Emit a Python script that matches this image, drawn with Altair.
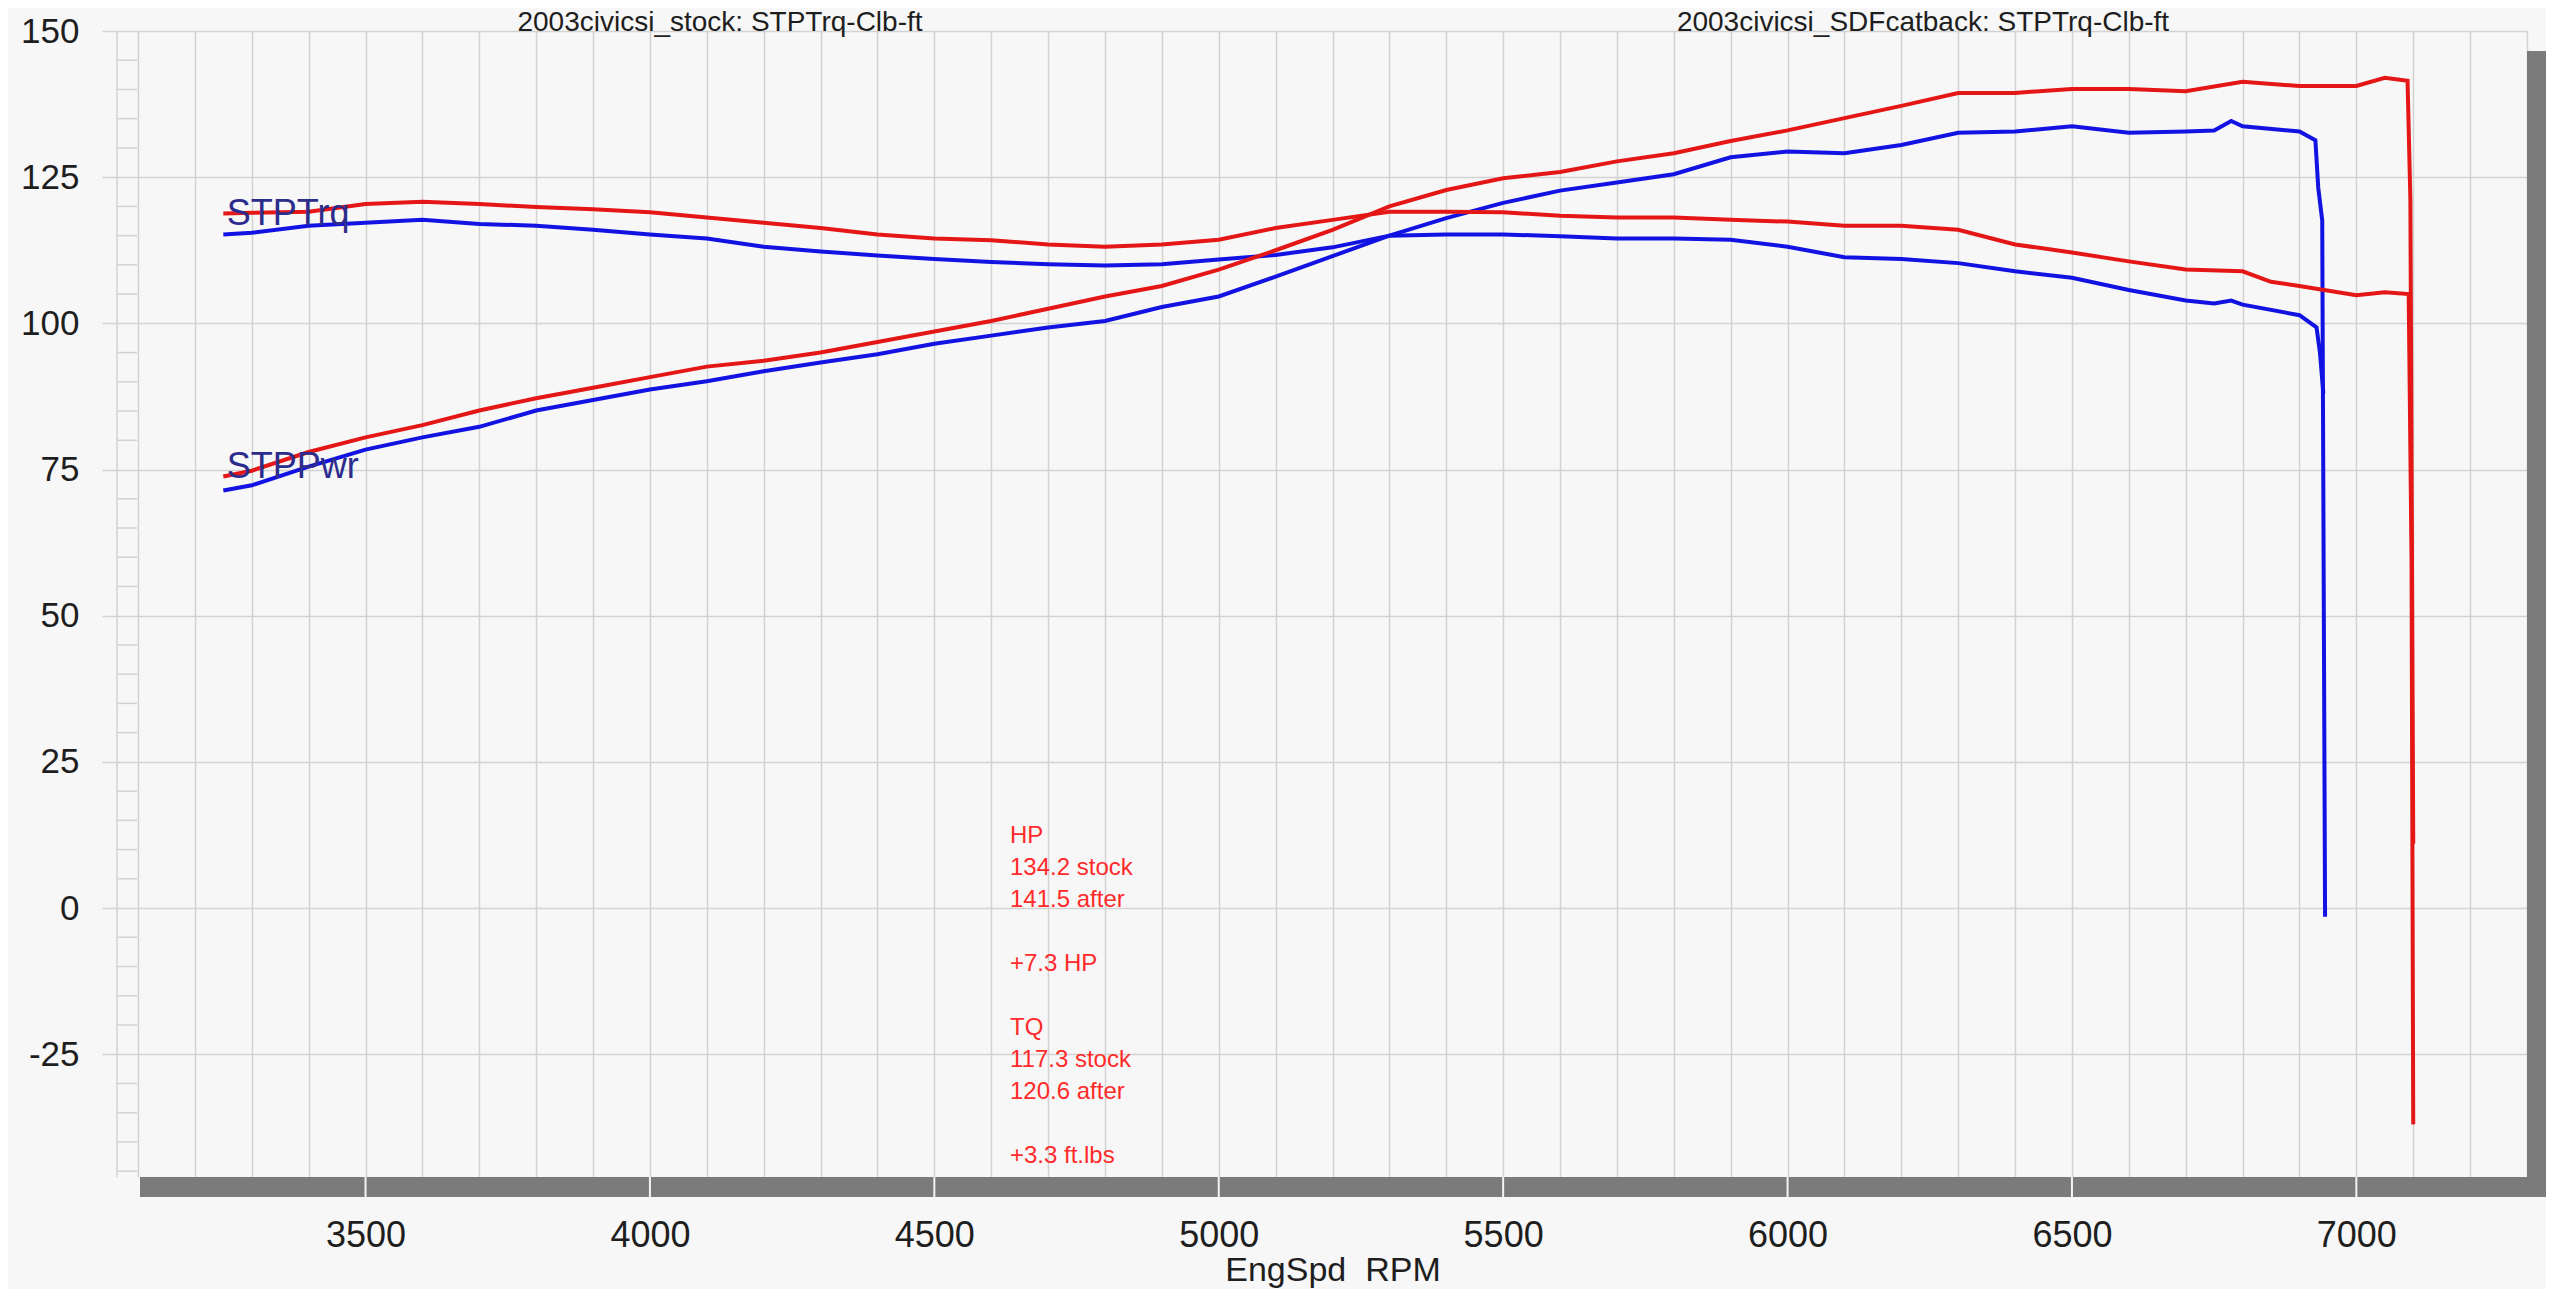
import altair as alt
import pandas as pd

# ---------------- data read from the dyno sheet ----------------
stock_trq_rpm = [3250, 3300, 3400, 3500, 3600, 3700, 3800, 3900, 4000, 4100, 4200, 4300, 4400, 4500,
                 4600, 4700, 4800, 4900, 5000, 5100, 5200, 5300, 5400, 5500, 5600, 5700, 5800, 5900,
                 6000, 6100, 6200, 6300, 6400, 6500, 6600, 6700, 6750, 6780, 6800, 6900, 6930, 6936, 6942]
stock_trq = [115.2, 115.5, 116.7, 117.2, 117.7, 117.0, 116.7, 116.0, 115.2, 114.5, 113.1, 112.3, 111.6, 111.0,
             110.5, 110.1, 109.9, 110.1, 110.9, 111.7, 113.0, 115.0, 115.2, 115.2, 114.9, 114.5, 114.5, 114.3,
             113.1, 111.3, 111.0, 110.3, 108.9, 107.8, 105.7, 103.9, 103.4, 103.9, 103.2, 101.4, 99.3, 95.0, 88.0]

stock_pwr_rpm = [3250, 3300, 3400, 3500, 3600, 3700, 3800, 3900, 4000, 4100, 4200, 4300, 4400, 4500,
                 4600, 4700, 4800, 4900, 5000, 5100, 5200, 5300, 5400, 5500, 5600, 5700, 5800, 5900,
                 6000, 6100, 6200, 6300, 6400, 6500, 6600, 6700, 6750, 6780, 6800, 6900, 6928, 6933, 6940, 6945]
stock_pwr = [71.4, 72.3, 75.5, 78.4, 80.5, 82.3, 85.1, 86.9, 88.7, 90.1, 91.8, 93.3, 94.7, 96.5,
             97.9, 99.3, 100.4, 102.8, 104.6, 108.0, 111.5, 115.0, 118.0, 120.6, 122.7, 124.1, 125.5, 128.4,
             129.4, 129.1, 130.5, 132.6, 132.8, 133.7, 132.6, 132.8, 133.0, 134.6, 133.7, 132.8, 131.3, 123.2, 117.6, -1.5]

after_trq_rpm = [3250, 3300, 3400, 3500, 3600, 3700, 3800, 3900, 4000, 4100, 4200, 4300, 4400, 4500,
                 4600, 4700, 4800, 4900, 5000, 5100, 5200, 5300, 5400, 5500, 5600, 5700, 5800, 5900,
                 6000, 6100, 6200, 6300, 6400, 6500, 6600, 6700, 6800, 6850, 6900, 7000, 7050, 7092, 7097, 7100]
after_trq = [118.8, 118.9, 119.1, 120.4, 120.8, 120.4, 119.9, 119.5, 119.0, 118.1, 117.2, 116.3, 115.2, 114.5,
             114.2, 113.5, 113.1, 113.5, 114.3, 116.3, 117.7, 119.1, 119.1, 119.0, 118.4, 118.1, 118.1, 117.7,
             117.4, 116.7, 116.7, 116.0, 113.5, 112.1, 110.6, 109.2, 108.9, 107.1, 106.4, 104.8, 105.3, 105.0, 60.0, -37.0]

after_pwr_rpm = [3250, 3300, 3400, 3500, 3600, 3700, 3800, 3900, 4000, 4100, 4200, 4300, 4400, 4500,
                 4600, 4700, 4800, 4900, 5000, 5100, 5200, 5300, 5400, 5500, 5600, 5700, 5800, 5900,
                 6000, 6100, 6200, 6300, 6400, 6500, 6600, 6700, 6800, 6900, 7000, 7050, 7090, 7095, 7100]
after_pwr = [73.8, 74.8, 78.0, 80.5, 82.6, 85.1, 87.2, 89.0, 90.8, 92.6, 93.6, 95.0, 96.8, 98.6,
             100.4, 102.5, 104.6, 106.4, 109.2, 112.5, 116.0, 120.0, 122.8, 124.8, 125.9, 127.7, 129.1, 131.2,
             133.0, 135.1, 137.2, 139.4, 139.4, 140.1, 140.1, 139.7, 141.3, 140.6, 140.6, 142.0, 141.5, 121.0, 11.0]

run_titles = ["2003civicsi_stock: STPTrq-Clb-ft", "2003civicsi_SDFcatback: STPTrq-Clb-ft"]
curve_labels = ["STPTrq", "STPPwr"]
curve_label_rpm = [3256, 3256]
curve_label_val = [116.9, 73.6]
note_blocks = [["HP", "134.2 stock", "141.5 after"],
               ["+7.3 HP"],
               ["TQ", "117.3 stock", "120.6 after"],
               ["+3.3 ft.lbs"]]
note_block_line = [0, 4, 6, 10]   # line number where each block starts
note_rpm = 4633
note_val = 11.1

x_domain = [3100, 7300]
y_domain = [-46, 150]
x_grid = list(range(3100, 7301, 100))
x_major = list(range(3500, 7001, 500))
y_major = [-25, 0, 25, 50, 75, 100, 125, 150]
y_minor = [v for v in range(-45, 150, 5) if v % 25 != 0]

# ---------------- styling ----------------
W, H = 2389, 1146
BLUE = "#1212e2"
RED = "#e41616"
GRID = "#d2d2d2"
FONT = "Liberation Sans"
NOTE_LH = 32

def frame(run, kind, rpms, vals):
    return pd.DataFrame({"rpm": rpms, "value": vals, "series": f"{run}_{kind}"})

stock_df = pd.concat([frame("stock", "trq", stock_trq_rpm, stock_trq),
                      frame("stock", "pwr", stock_pwr_rpm, stock_pwr)])
after_df = pd.concat([frame("after", "trq", after_trq_rpm, after_trq),
                      frame("after", "pwr", after_pwr_rpm, after_pwr)])

xs = alt.Scale(domain=x_domain, nice=False, zero=False)
ys = alt.Scale(domain=y_domain, nice=False, zero=False)

x_axis = alt.Axis(values=x_grid, format="d",
                  labelExpr="datum.value % 500 === 0 ? datum.label : ''",
                  grid=True, gridColor=GRID, gridWidth=1.5, ticks=False, tickSize=0, domain=False,
                  labelPadding=41, labelFontSize=36, labelFont=FONT, labelColor="#1e1e1e",
                  labelOverlap=False, labelFlush=False,
                  title="EngSpd\u00a0 RPM", titleFont=FONT, titleFontSize=34, titleFontWeight="normal",
                  titleColor="#1e1e1e", titlePadding=0)
y_axis = alt.Axis(values=y_major, format="d",
                  labelExpr="replace(datum.label, '\u2212', '-')",
                  grid=True, gridColor=GRID, gridWidth=1.5,
                  ticks=True, tickSize=36, tickColor=GRID, tickWidth=1.5, domain=False,
                  labelPadding=23, labelFontSize=35, labelFont=FONT, labelColor="#1e1e1e",
                  labelOverlap=False, labelFlush=False, title=None)

X = lambda f: alt.X(f, type="quantitative", scale=xs, axis=x_axis)
Y = lambda f: alt.Y(f, type="quantitative", scale=ys, axis=y_axis)

one = alt.Data(values=[{"k": 0}])

# 3D-style shadow of the plot frame
shadow_bottom = alt.Chart(one).mark_rect(color="#7b7b7b").encode(
    x=alt.value(2), x2=alt.value(W + 20), y=alt.value(H), y2=alt.value(H + 20))
shadow_right = alt.Chart(one).mark_rect(color="#7b7b7b").encode(
    x=alt.value(W), x2=alt.value(W + 20), y=alt.value(20), y2=alt.value(H + 20))

notches = alt.Chart(pd.DataFrame({"rpm": x_major})).mark_rule(color="#f4f4f4", strokeWidth=2).encode(
    x=X("rpm"), y=alt.value(H), y2=alt.value(H + 20))

minor_ticks = alt.Chart(pd.DataFrame({"value": y_minor})).mark_rule(color=GRID, strokeWidth=1.5).encode(
    y=Y("value"), x=alt.value(-21), x2=alt.value(-1))
strip_line = alt.Chart(one).mark_rule(color=GRID, strokeWidth=1.5).encode(
    x=alt.value(-21), y=alt.value(0), y2=alt.value(H))

stock_lines = alt.Chart(stock_df).mark_line(color=BLUE, strokeWidth=4).encode(
    x=X("rpm"), y=Y("value"), detail="series:N")
after_lines = alt.Chart(after_df).mark_line(color=RED, strokeWidth=4).encode(
    x=X("rpm"), y=Y("value"), detail="series:N")

labels_df = pd.DataFrame({"rpm": curve_label_rpm, "value": curve_label_val, "label": curve_labels})
curve_text = alt.Chart(labels_df).mark_text(align="left", baseline="alphabetic", font=FONT,
                                            fontSize=36, color="#2c2c8c").encode(
    x=X("rpm"), y=Y("value"), text="label:N")

note_df = pd.DataFrame({"rpm": [note_rpm], "value": [note_val]})
note_layers = [
    alt.Chart(note_df).mark_text(align="left", baseline="alphabetic", font=FONT, fontSize=24,
                                 lineHeight=NOTE_LH, dy=NOTE_LH * start, color="#ff2a2a",
                                 text=block).encode(x=X("rpm"), y=Y("value"))
    for block, start in zip(note_blocks, note_block_line)
]

title_stock = alt.Chart(one).mark_text(align="center", baseline="top", font=FONT, fontSize=28,
                                       color="#1e1e1e", text=run_titles[0]).encode(
    x=alt.value(582), y=alt.value(-22.5))
title_after = alt.Chart(one).mark_text(align="center", baseline="top", font=FONT, fontSize=28,
                                       color="#1e1e1e", text=run_titles[1]).encode(
    x=alt.value(1785), y=alt.value(-22.5))

chart = alt.layer(
    shadow_bottom, shadow_right, notches, minor_ticks, strip_line,
    stock_lines, after_lines, curve_text, *note_layers, title_stock, title_after
).properties(
    width=W, height=H,
    padding={"left": 130, "top": 23, "right": 19, "bottom": 112},
    autosize="none",
).configure(
    background="#f7f7f7", font=FONT
).configure_view(stroke=None)

chart.save("out.html", embed_options={"renderer": "svg", "actions": False})
